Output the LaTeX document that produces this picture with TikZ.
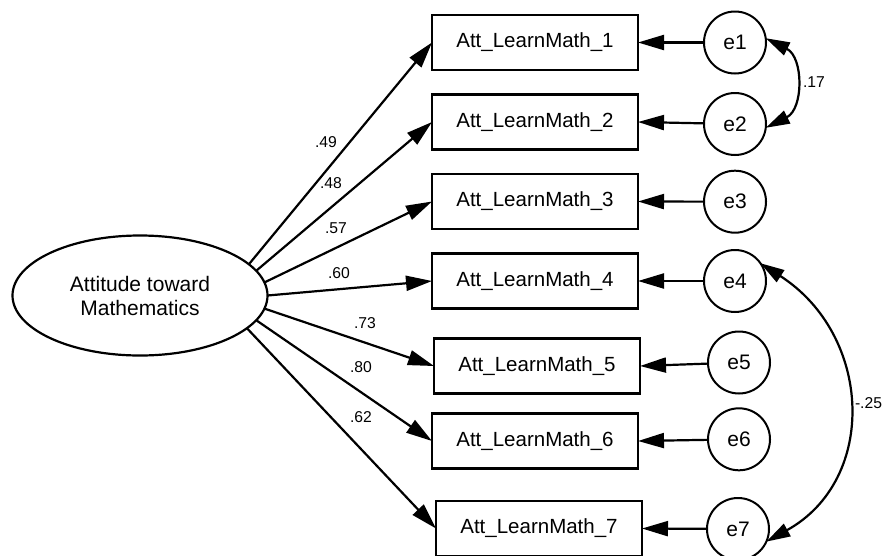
\documentclass[tikz,border=0pt]{standalone}
\usepackage{fontspec}
\setmainfont{Liberation Sans}
\usetikzlibrary{arrows.meta,shapes.geometric}
\begin{document}
\begin{tikzpicture}[x=1pt,y=-1pt,
  every node/.style={inner sep=0pt, outer sep=0pt},
  obs/.style={draw, line width=2.2pt, minimum width=206pt, minimum height=55pt,
    font=\fontsize{20.5}{24}\selectfont},
  err/.style={draw, circle, line width=2pt, minimum size=62pt,
    font=\fontsize{21}{24}\selectfont},
  lat/.style={draw, ellipse, line width=2.2pt, minimum width=255pt, minimum height=120pt,
    align=center, font=\fontsize{21}{24}\selectfont},
  coef/.style={font=\fontsize{15.7}{18}\selectfont},
  load/.style={line width=2.2pt, -{Triangle[length=26pt,width=15pt]}},
  cov/.style={line width=2.2pt,
    {Triangle[length=24pt,width=14pt]}-{Triangle[length=24pt,width=14pt]}}
]
\fill[white] (0,0) rectangle (883,555);
\useasboundingbox (0,0) rectangle (883,555);

% latent factor
\node[lat] (att) at (140,295.5) {Attitude toward\\Mathematics};

% observed indicators
\node[obs] (b1) at (535,42.5)  {Att\_LearnMath\_1};
\node[obs] (b2) at (535,122)   {Att\_LearnMath\_2};
\node[obs] (b3) at (535,201.5) {Att\_LearnMath\_3};
\node[obs] (b4) at (535,281)   {Att\_LearnMath\_4};
\node[obs] (b5) at (537,366)   {Att\_LearnMath\_5};
\node[obs] (b6) at (535,441)   {Att\_LearnMath\_6};
\node[obs] (b7) at (539,528.5) {Att\_LearnMath\_7};

% error terms
\node[err] (e1) at (735,42.5)  {e1};
\node[err] (e2) at (735,124)   {e2};
\node[err] (e3) at (735,201.7) {e3};
\node[err] (e4) at (735,281)   {e4};
\node[err] (e5) at (739,362.5) {e5};
\node[err] (e6) at (739,439.3) {e6};
\node[err] (e7) at (738,529)   {e7};

% factor loadings
\draw[load] (att.16)  -- (b1.west);
\draw[load] (att.12)  -- (b2.west);
\draw[load] (att.6)   -- (b3.west);
\draw[load] (att.0)   -- (b4.west);
\draw[load] (att.-6)  -- (b5.west);
\draw[load] (att.-12) -- (b6.west);
\draw[load] (att.-17) -- (b7.west);

\node[coef] (l1) at (326,142) {.49};
\node[coef] (l2) at (331,183) {.48};
\node[coef] (l3) at (336,228) {.57};
\node[coef] (l4) at (339,273) {.60};
\node[coef] (l5) at (365,323) {.73};
\node[coef] (l6) at (361,367) {.80};
\node[coef] (l7) at (361,417) {.62};

% error paths
\draw[load] (e1) -- (b1.east);
\draw[load] (e2) -- (b2.east);
\draw[load] (e3) -- (b3.east);
\draw[load] (e4) -- (b4.east);
\draw[load] (e5) -- (b5.east);
\draw[load] (e6) -- (b6.east);
\draw[load] (e7) -- (b7.east);

% error covariances
\draw[cov] (e1.8) .. controls +(38,19) and +(38,-19) .. (e2.-7);
\node[coef] (c12) at (814,82) {.17};
\draw[cov] (e4.35) .. controls +(112,72) and +(112,-62) .. (e7.-24);
\node[coef, anchor=west] (c47) at (855,403) {-.25};
\end{tikzpicture}
\end{document}
